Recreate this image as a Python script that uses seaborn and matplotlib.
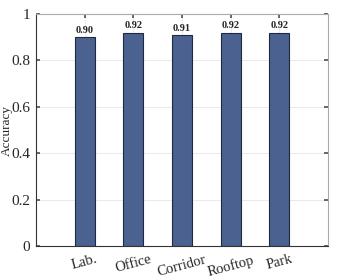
import matplotlib
matplotlib.use("Agg")
import matplotlib.pyplot as plt
import matplotlib.transforms as mtransforms
import seaborn as sns
import pandas as pd

categories = ["Lab.", "Office", "Corridor", "Rooftop", "Park"]
accuracy = [0.90, 0.92, 0.91, 0.92, 0.92]
labels = ["0.90", "0.92", "0.91", "0.92", "0.92"]

sns.set_theme(style="white")
plt.rcParams['font.family'] = ['Liberation Serif', 'DejaVu Serif']

df = pd.DataFrame({"cat": categories, "acc": accuracy})

fig = plt.figure(figsize=(3.57, 2.78), dpi=100)
ax = fig.add_axes([36/357, 1-246/278, (328-36)/357, (246-14)/278])
sns.barplot(data=df, x="cat", y="acc", ax=ax, color="#4b6190", width=0.41,
            edgecolor="#1f2a40", linewidth=0.8, saturation=1)
ax.set_xlim(-1, 5)
ax.set_ylim(0, 1)
ax.set_yticks([0, 0.2, 0.4, 0.6, 0.8, 1.0])
ax.set_yticklabels(["0", "0.2", "0.4", "0.6", "0.8", "1"], fontsize=11)
ax.set_xticks(range(len(categories)))
ax.set_xticklabels(categories, rotation=15, fontsize=10.5)
offset = mtransforms.ScaledTranslation(-6/100, 0, fig.dpi_scale_trans)
for lbl in ax.get_xticklabels():
    lbl.set_transform(lbl.get_transform() + offset)
ax.set_xlabel("")
ax.set_ylabel("Accuracy", fontsize=9.5)
ax.yaxis.set_label_coords(-0.078, 0.5)
ax.grid(True, axis="both", color="#e6e6e6", linewidth=0.6)
ax.set_axisbelow(True)
for s in ax.spines.values():
    s.set_color("#aaaaaa")
    s.set_linewidth(0.8)
ax.spines["left"].set_color("#333333")
ax.spines["bottom"].set_color("#333333")
ax.tick_params(direction="in", length=3, color="#555555", top=True, right=True,
               left=True, bottom=True)
ax.tick_params(axis="x", pad=5)
ax.tick_params(axis="y", pad=4)
for i, (v, t) in enumerate(zip(accuracy, labels)):
    ax.text(i, v + 0.01, t, ha="center", va="bottom", fontsize=7.5, fontweight="bold")
fig.savefig("out.png", dpi=100)
